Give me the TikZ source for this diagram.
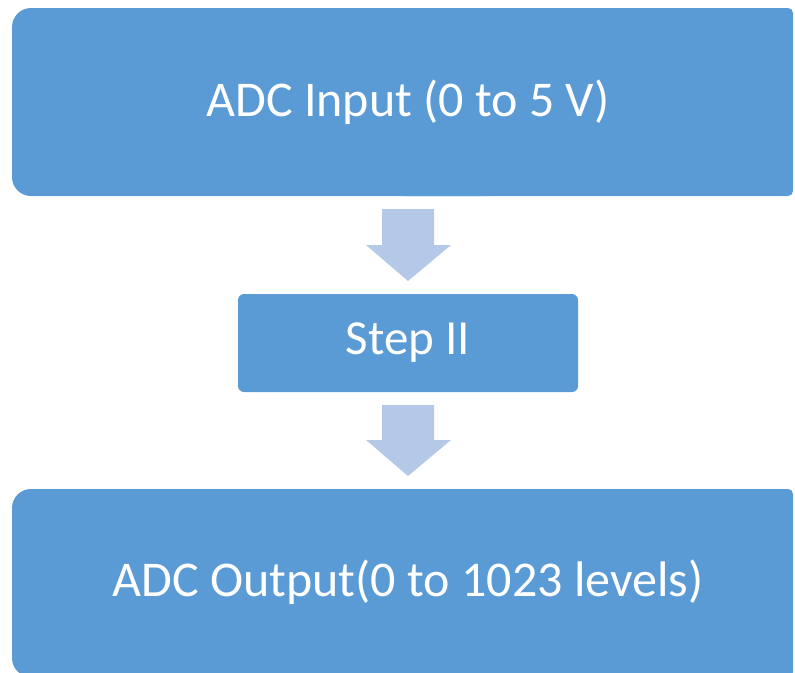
\documentclass[tikz,border=0pt]{standalone}
\usepackage{fontspec}
\setmainfont{Carlito}
\definecolor{boxblue}{HTML}{5B9BD5}
\definecolor{arrowblue}{HTML}{B4C9E8}
\begin{document}
\begin{tikzpicture}[x=1pt,y=-1pt,
  bigtext/.style={text=white, font=\fontsize{50}{60}\selectfont, inner sep=0pt},
  midbox/.style={fill=boxblue, draw=none, rounded corners=6pt, text=white,
    font=\fontsize{49}{58}\selectfont, inner sep=0pt},
  boxfill/.style={fill=boxblue, draw=none},
  blockarrow/.style={fill=arrowblue, draw=none}]
\useasboundingbox (0,0) rectangle (795,672);
\clip (0,0) rectangle (795,672);
% top box shape: large left corners, small right corners
\fill[boxfill, rounded corners=19pt] (12,8) rectangle (500,196);
\fill[boxfill, rounded corners=5pt] (400,8) rectangle (793,196);
\node[bigtext, minimum width=781pt, minimum height=188pt] (in) at (408,102) {ADC Input (0 to 5 V)};
% middle box
\node[midbox, minimum width=340pt, minimum height=98pt] (step) at (408,343) {Step II};
% bottom box
\fill[boxfill, rounded corners=19pt] (12,489) rectangle (500,677);
\fill[boxfill, rounded corners=5pt] (400,489) rectangle (793,677);
\node[bigtext, minimum width=781pt, minimum height=188pt] (out) at (408,582) {ADC Output(0 to 1023 levels)};
% block arrows
\fill[blockarrow] (382,209) -- (434,209) -- (434,245) -- (451,245) -- (408,281) -- (366,245) -- (382,245) -- cycle;
\fill[blockarrow] (382,405) -- (434,405) -- (434,440) -- (451,440) -- (408,476) -- (366,440) -- (382,440) -- cycle;
\end{tikzpicture}
\end{document}
